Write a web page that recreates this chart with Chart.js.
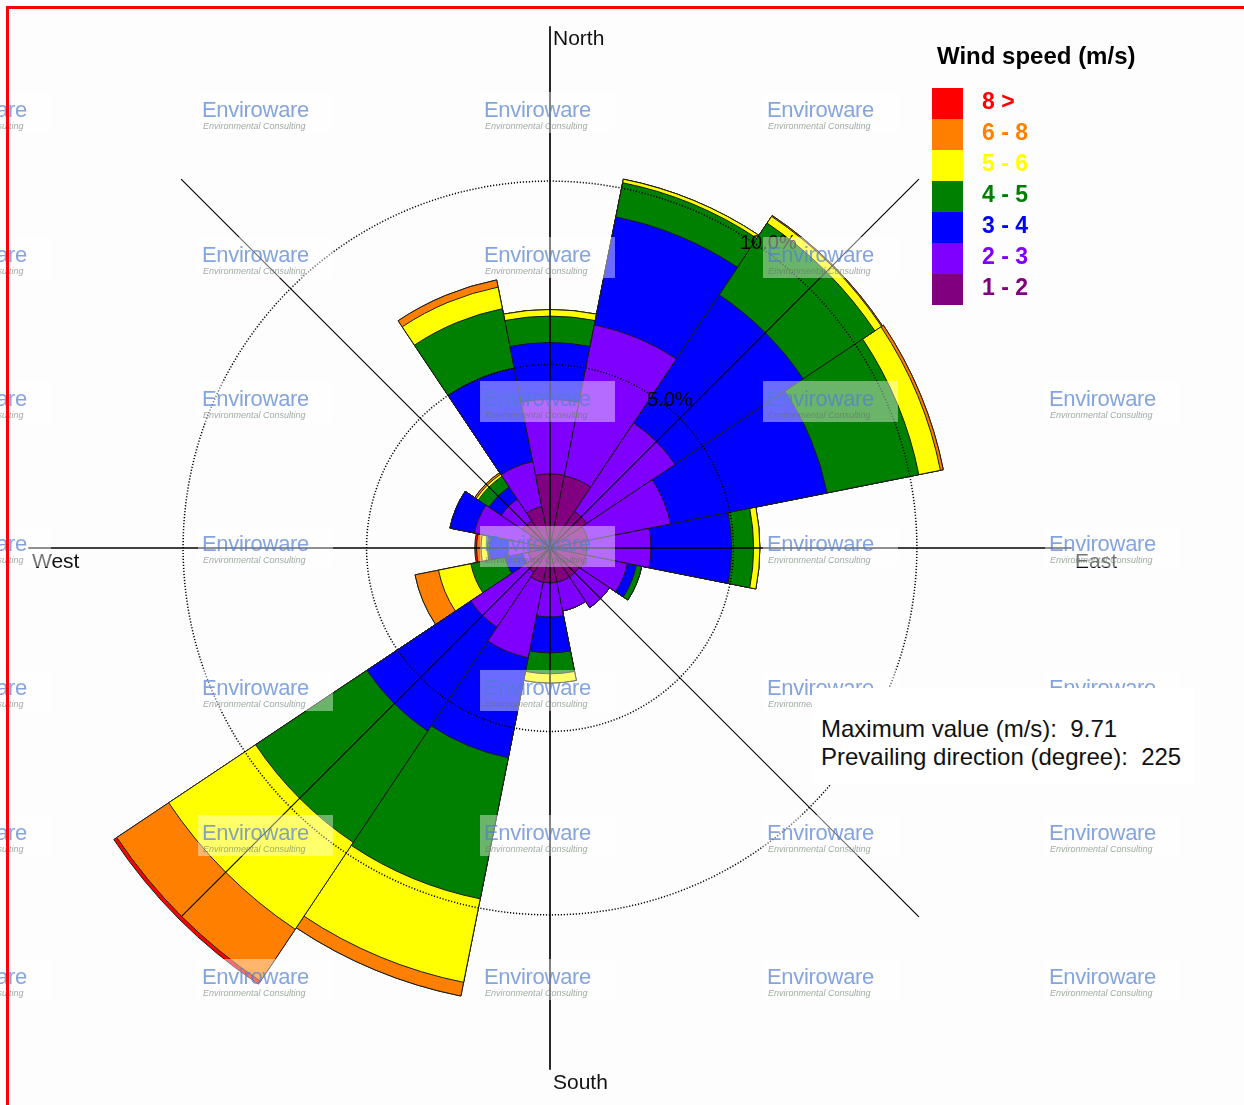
<!DOCTYPE html>
<html>
<head>
<meta charset="utf-8">
<title>Wind rose</title>
<script src="https://cdn.jsdelivr.net/npm/chart.js@4.4.1/dist/chart.umd.min.js"></script>
<style>
    body { margin: 0; background: #fff; font-family: "Liberation Sans", Arial, sans-serif; }
    #page { position: relative; width: 1244px; height: 1105px; overflow: hidden; background: #fdfdfe; }
    #frame { position: absolute; left: 6px; top: 6px; right: -10px; bottom: -10px; border-top: 3px solid #ff0000; border-left: 3px solid #ff0000; z-index: 6; }
    #chartBox { position: absolute; left: 0; top: 0; width: 1244px; height: 1105px; }
    .lbl { position: absolute; font-size: 21px; line-height: 21px; color: #111; white-space: nowrap; z-index: 2; }
    .pct { position: absolute; font-size: 20px; line-height: 20px; color: #000; white-space: nowrap; z-index: 2; }
    .wm { position: absolute; width: 135px; height: 41px; background: rgba(255,255,255,0.42); z-index: 3; overflow: hidden; }
    .wm .t { position: absolute; left: 4px; top: 7px; font-size: 22px; line-height: 22px; color: rgba(80,125,210,0.7); letter-spacing: -0.3px; }
    .wm .s { position: absolute; left: 5px; top: 29px; font-size: 9px; line-height: 10px; font-style: italic; color: rgba(95,115,95,0.6); }
    #legend { position: absolute; left: 932px; top: 44px; z-index: 4; }
    #legend .title { position: absolute; left: 5px; top: 0; font-size: 24px; line-height: 24px; font-weight: bold; color: #000; white-space: nowrap; }
    .sw { position: absolute; left: 0; width: 31px; height: 31px; }
    .sl { position: absolute; left: 50px; font-size: 23px; line-height: 31px; font-weight: bold; white-space: nowrap; }
    #info { position: absolute; left: 812px; top: 688px; width: 383px; height: 97px; background: #fff; z-index: 5; }
    #info div { position: absolute; left: 9px; font-size: 24px; line-height: 28px; color: #111; white-space: nowrap; }
</style>
</head>
<body>
<div id="page">
    <div id="chartBox"><canvas id="roseChart"></canvas></div>
    <div id="labels"></div>
    <div id="marks"></div>
    <div id="legend"></div>
    <div id="info">
        <div style="top:27px">Maximum value (m/s):&nbsp; 9.71</div>
        <div style="top:55px">Prevailing direction (degree):&nbsp; 225</div>
    </div>
    <div id="frame"></div>
</div>
<script>
// 16 sectors, clockwise from north
const directions = ['N', 'NNE', 'NE', 'ENE', 'E', 'ESE', 'SE', 'SSE', 'S', 'SSW', 'SW', 'WSW', 'W', 'WNW', 'NW', 'NNW'];
const speedClasses = ['1 - 2', '2 - 3', '3 - 4', '4 - 5', '5 - 6', '6 - 8', '8 >'];
const classColors = ['#800080', '#8000ff', '#0000ff', '#008000', '#ffff00', '#ff8000', '#ff0000'];

// frequency (%) of each speed class per direction
const freq1to2 = [2.02, 2.0, 1.2, 1.05, 1.0, 1.0, 0.95, 0.95, 0.95, 0.95, 0.8, 0.6, 0.55, 0.6, 0.9, 1.15];
const freq2to3 = [2.03, 4.2, 2.9, 2.3, 1.75, 1.15, 1.0, 0.8, 0.93, 2.1, 1.8, 0.15, 0.6, 1.5, 0.7, 1.25];
const freq3to4 = [1.55, 3.0, 4.2, 4.35, 2.2, 0.25, 0, 0, 0.98, 2.78, 3.4, 0.5, 0.5, 0.68, 0.4, 2.6];
const freq4to5 = [0.72, 0.95, 2.35, 2.55, 0.6, 0.15, 0, 0, 0.57, 3.92, 3.65, 0.95, 0.05, 0, 0.35, 1.65];
const freq5to6 = [0.18, 0.1, 0.22, 0.6, 0.17, 0, 0, 0, 0.25, 2.32, 2.85, 0.9, 0.18, 0, 0.07, 0.6];
const freq6to8 = [0, 0, 0.03, 0.08, 0, 0, 0, 0, 0, 0.38, 1.7, 0.65, 0.12, 0, 0.05, 0.2];
const freqAbove8 = [0, 0, 0, 0, 0, 0, 0, 0, 0, 0, 0.1, 0, 0.05, 0, 0, 0];

const ringTicks = [5, 10];
const scaleMax = 14.5;
const axisReach = 14.22;

const classFreqs = [freq1to2, freq2to3, freq3to4, freq4to5, freq5to6, freq6to8, freqAbove8];

// polar area can't stack, so every class is drawn as a cumulative ring;
// dataset 0 is painted last so the inner classes sit on top
let running = directions.map(() => 0);
const datasets = classFreqs.map((f, k) => {
    running = running.map((v, i) => +(v + f[i]).toFixed(3));
    return {
        label: speedClasses[k],
        data: running.slice(),
        backgroundColor: classColors[k],
        borderColor: '#1b1b1b',
        borderWidth: 1
    };
});

const compassLines = {
    id: 'compassLines',
    afterDraw(chart) {
        const r = chart.scales.r;
        const ctx = chart.ctx;
        const len = r.getDistanceFromCenterForValue(axisReach);
        ctx.save();
        ctx.strokeStyle = '#000';
        [0, 45, 90, 135].forEach(deg => {
            const a = deg * Math.PI / 180;
            ctx.lineWidth = deg % 90 === 0 ? 1.7 : 1.1;
            ctx.beginPath();
            ctx.moveTo(r.xCenter - len * Math.sin(a), r.yCenter + len * Math.cos(a));
            ctx.lineTo(r.xCenter + len * Math.sin(a), r.yCenter - len * Math.cos(a));
            ctx.stroke();
        });
        ctx.restore();
    }
};

const ctx = document.getElementById('roseChart').getContext('2d');
const roseChart = new Chart(ctx, {
    type: 'polarArea',
    data: { labels: directions, datasets: datasets },
    options: {
        responsive: true,
        maintainAspectRatio: false,
        animation: false,
        layout: { padding: { left: 18, right: 162, top: 16, bottom: 25 } },
        plugins: { legend: { display: false }, tooltip: { enabled: false } },
        scales: {
            r: {
                min: 0,
                max: scaleMax,
                startAngle: -11.25,
                ticks: { display: false, stepSize: 5 },
                afterBuildTicks: (scale) => {
                    scale.ticks = [{ value: 0 }].concat(ringTicks.map(v => ({ value: v })));
                },
                grid: { circular: true, color: '#000', lineWidth: 1.5, z: 1 },
                border: { dash: [1.2, 1.8] },
                angleLines: { display: false },
                pointLabels: { display: false }
            }
        }
    },
    plugins: [compassLines]
});

// compass and ring labels
const labelsHtml = [
    ['lbl', 553, 27, 'North'],
    ['lbl', 553, 1071, 'South'],
    ['lbl', 32, 550, 'West'],
    ['lbl', 1075, 550, 'East'],
    ['pct', 647, 389, '5.0%'],
    ['pct', 740, 232, '10.0%']
].map(l => `<div class="${l[0]}" style="left:${l[1]}px;top:${l[2]}px">${l[3]}</div>`).join('');
document.getElementById('labels').innerHTML = labelsHtml;

// legend
let legendHtml = '<div class="title">Wind speed (m/s)</div>';
for (let k = speedClasses.length - 1; k >= 0; k--) {
    const row = speedClasses.length - 1 - k;
    const top = 44 + row * 31;
    legendHtml += `<div class="sw" style="top:${top}px;background:${classColors[k]}"></div>`;
    legendHtml += `<div class="sl" style="top:${top - 2}px;color:${classColors[k]}">${speedClasses[k].replace('>', '&gt;')}</div>`;
}
document.getElementById('legend').innerHTML = legendHtml;

// watermark grid
const markCols = [-80, 202, 484, 767, 1049];
const markRows = [110, 255, 399, 544, 688, 833, 977];
let marksHtml = '';
markCols.forEach(x => {
    markRows.forEach(y => {
        if (x === 1049 && y < 300) return;
        marksHtml += `<div class="wm" style="left:${x - 4}px;top:${y - 18}px"><div class="t">Enviroware</div><div class="s">Environmental Consulting</div></div>`;
    });
});
document.getElementById('marks').innerHTML = marksHtml;
</script>
</body>
</html>
